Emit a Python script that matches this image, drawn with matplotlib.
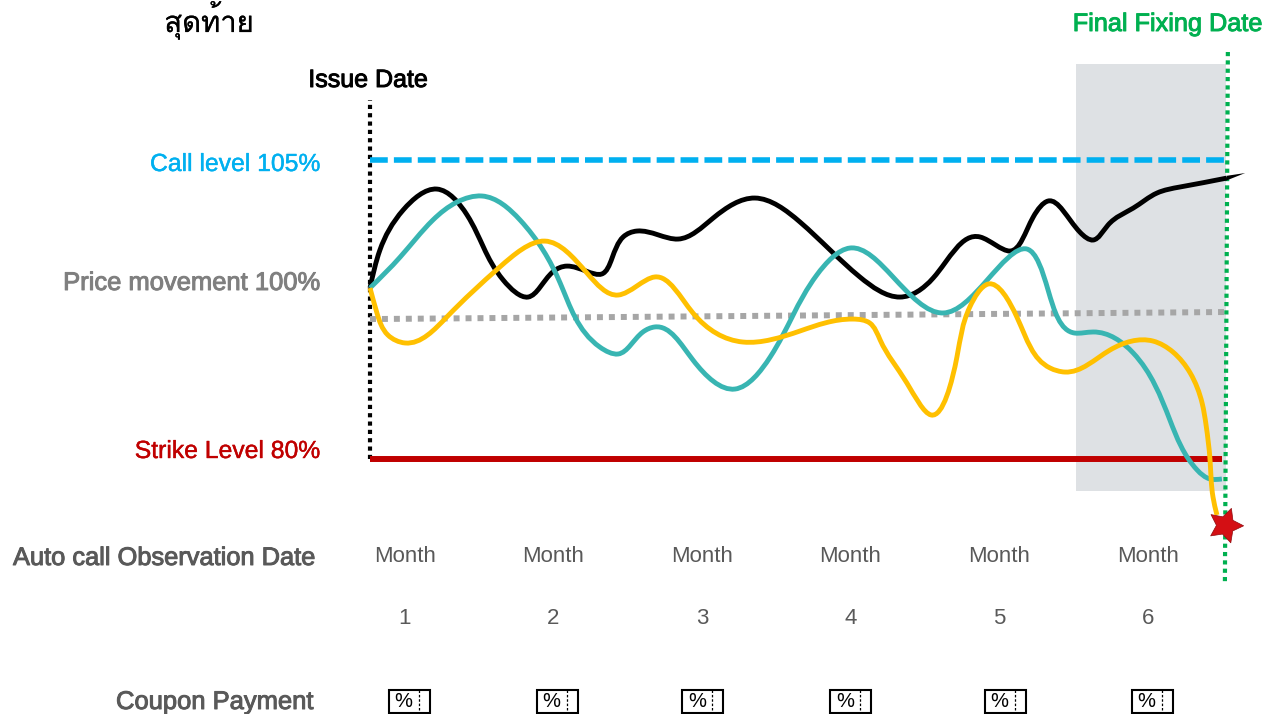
import numpy as np
import matplotlib
matplotlib.use("Agg")
import matplotlib.pyplot as plt
import matplotlib.patheffects as pe
from matplotlib import font_manager as fm
from matplotlib.ft2font import FT2Font
from matplotlib.path import Path
from matplotlib.patches import PathPatch, Rectangle

plt.rcParams['font.family'] = ['Liberation Sans', 'Noto Sans', 'DejaVu Sans']

# levels in %, time in days since issue date
call_level = 105
strike_level = 80
month_days = [7, 37, 67, 97, 127, 157]
month_numbers = ['1', '2', '3', '4', '5', '6']
coupon_days = [7.9, 37.9, 67.2, 97.1, 128.3, 158.0]

ref_days = [0, 173]
ref_level = [91.70, 92.29]

black_days = [0, 2.0, 6.7, 13.5, 19.6, 26.9, 31.9, 36.9, 39.8, 46.8, 51.1, 53.9, 62.2, 69.3, 77.7, 86.8, 98.9,
              107.0, 113.7, 123.2, 129.2, 133.9, 136.9, 143.3, 146.0, 149.0, 154.1, 158.9, 163.5, 173.0]
black_level = [94.30, 97.47, 100.82, 102.57, 100.40, 94.96, 93.54, 95.64, 96.13, 95.47, 98.56, 99.06, 98.39,
               100.15, 101.82, 99.82, 95.22, 93.54, 95.13, 98.56, 97.39, 100.23, 101.57, 98.98, 98.31, 99.56,
               100.98, 102.24, 102.74, 103.49]
black_tail = (176.7, 103.91)

teal_days = [0, 6.1, 12.7, 17.6, 22.6, 30.3, 38.4, 46.4, 50.1, 55.1, 57.5, 65.2, 73.7, 80.8, 90.2, 96.9, 105.6,
             115.7, 124.6, 132.6, 136.9, 142.3, 146.0, 154.1, 161.5, 167.0, 169.6, 172.0]
teal_level = [94.30, 96.89, 99.98, 101.49, 101.99, 99.98, 94.71, 89.36, 88.78, 90.62, 91.04, 88.28, 85.85, 88.53,
              95.38, 97.64, 95.22, 92.21, 94.96, 97.56, 94.13, 90.53, 90.62, 88.86, 83.26, 79.08, 78.33, 78.33]

yellow_days = [0, 1.4, 3.6, 7.1, 15.5, 26.2, 35.3, 43.8, 50.1, 57.5, 65.2, 75.3, 86.8, 97.5, 100.9, 103.0, 108.4,
               113.3, 118.5, 121.1, 124.8, 130.6, 137.3, 140.3, 149.4, 158.1, 162.1, 165.6, 168.0, 168.8, 169.6,
               170.2, 171.0]
yellow_level = [94.30, 92.21, 90.37, 89.70, 91.87, 96.05, 98.22, 95.55, 93.71, 95.22, 92.21, 89.78, 90.70, 91.70,
                91.37, 89.95, 86.35, 83.68, 88.53, 92.71, 94.63, 91.87, 87.61, 87.27, 89.11, 89.86, 88.95, 87.19,
                84.68, 82.84, 79.92, 76.82, 75.32]

breach_day, breach_level = 172.6, 74.48

GREY = '#595959'
PX_X = 4.953
PX_Y = 11.96
TITLE = 'สุดท้าย'


def px(x, y):
    # figure fraction from reference pixel
    return x / 1264, 1 - y / 714


def thai_fonts():
    # which installed families really have the Thai letters
    found = []
    for f in fm.fontManager.ttflist:
        try:
            cmap = FT2Font(f.fname).get_charmap()
        except Exception:
            continue
        if all(ord(c) in cmap for c in TITLE) and f.name not in found:
            found.append(f.name)
    return found


def smooth_path(xs, ys):
    # C2 spline through the read points, chord length parameter, as beziers
    p = np.column_stack([xs, ys]) * [PX_X, PX_Y]
    h = np.hypot(*np.diff(p, axis=0).T)
    d = np.diff(p, axis=0) / h[:, None]
    n = len(p)
    A = np.zeros((n, n))
    b = np.zeros((n, 2))
    A[0, :2] = 2, 1
    b[0] = 3 * d[0]
    A[-1, -2:] = 1, 2
    b[-1] = 3 * d[-1]
    for i in range(1, n - 1):
        A[i, i - 1:i + 2] = h[i], 2 * (h[i - 1] + h[i]), h[i - 1]
        b[i] = 3 * (h[i] * d[i - 1] + h[i - 1] * d[i])
    m = np.linalg.solve(A, b)
    verts = [p[0]]
    codes = [Path.MOVETO]
    for i in range(n - 1):
        verts += [p[i] + m[i] * h[i] / 3, p[i + 1] - m[i + 1] * h[i] / 3, p[i + 1]]
        codes += [Path.CURVE4] * 3
    return Path(np.array(verts) / [PX_X, PX_Y], codes)


def label(x, y, s, color, size, ha='left', stroke=0.7, family=None):
    t = fig.text(*px(x, y), s, color=color, fontsize=size, ha=ha, va='center')
    if family:
        t.set_family(family)
    if stroke:
        t.set_path_effects([pe.withStroke(linewidth=stroke, foreground=color)])
    return t


fig = plt.figure(figsize=(12.64, 7.14), dpi=100)
ax = fig.add_axes([0, 0, 1, 1])
ax.set_xlim(-370 / PX_X, 894 / PX_X)
ax.set_ylim(strike_level - 255 / PX_Y, strike_level + 459 / PX_Y)
ax.axis('off')

# final observation shading
ax.add_patch(Rectangle((142.5, 77.32), 30.3, 35.7, color='#DEE1E4', lw=0, zorder=1))

# reference lines
ax.plot([0, 0], [strike_level, 110.0], color='black', lw=3.0, ls=(0, (1, 1)), zorder=3)
ax.plot([173.2, 172.6], [114.03, 69.46], color='#00B050', lw=3.0, ls=(0, (1, 1)), zorder=2)
ax.plot([0, 172.6], [call_level, call_level], color='#00B0F0', lw=4.0, ls=(0, (3.2, 1.1)), zorder=3)
ax.plot([0, 172.0], [strike_level, strike_level], color='#C00000', lw=4.3, solid_capstyle='butt', zorder=3)
ax.plot(ref_days, ref_level, color='#A6A6A6', lw=4.3, ls=(0, (1, 1)), zorder=3)

# price paths
for xs, ys, col, z in [(black_days, black_level, 'black', 4),
                       (teal_days, teal_level, '#38B5B2', 5),
                       (yellow_days, yellow_level, '#FFC000', 6)]:
    ax.add_patch(PathPatch(smooth_path(xs, ys), fc='none', ec=col, lw=3.5, capstyle='butt', zorder=z))
ax.fill([black_days[-1], black_days[-1], black_tail[0]],
        [black_level[-1] + 0.19, black_level[-1] - 0.19, black_tail[1]], color='black', lw=0, zorder=4)

ax.scatter([breach_day], [breach_level], marker=(5, 1, -19), s=680, color='#D40F14', edgecolor='#8E0A0D',
           linewidth=0.5, zorder=7)

# text
thai = thai_fonts()
label(209, 20, TITLE, 'black', 21, ha='center', stroke=0.15, family=(thai[:1] or ['DejaVu Sans']) + ['DejaVu Sans'])
label(1263, 24, 'Final Fixing Date', '#00B050', 18.2, ha='right')
label(368, 80, 'Issue Date', 'black', 18, ha='center')
label(320, 164, 'Call level 105%', '#00B0F0', 17.8, ha='right', stroke=0.3)
label(320, 283, 'Price movement 100%', '#7F7F7F', 18.4, ha='right')
label(320, 451, 'Strike Level 80%', '#C00000', 17.8, ha='right', stroke=0.3)
label(316, 558, 'Auto call Observation Date', GREY, 18.3, ha='right')
label(313, 702, 'Coupon Payment', GREY, 18.4, ha='right')

for d, n in zip(month_days, month_numbers):
    x = 370 + d * PX_X
    label(x, 556, 'Month', GREY, 16, ha='center', stroke=0)
    label(x, 618, n, GREY, 16, ha='center', stroke=0)

# coupon tickets
for d in coupon_days:
    cx = 370 + d * PX_X
    fig.add_artist(Rectangle(px(cx - 20.5, 712.5), 41 / 1264, 23 / 714, transform=fig.transFigure,
                             fc='white', ec='black', lw=1.5))
    fig.add_artist(plt.Line2D([px(cx + 9.5, 0)[0]] * 2, [px(0, 690)[1], px(0, 712)[1]], color='black', lw=0.9,
                              ls=(0, (2, 1.5))))
    label(cx - 6, 701.5, '%', 'black', 14.5, ha='center', stroke=0)

fig.savefig('out.png', dpi=100)
